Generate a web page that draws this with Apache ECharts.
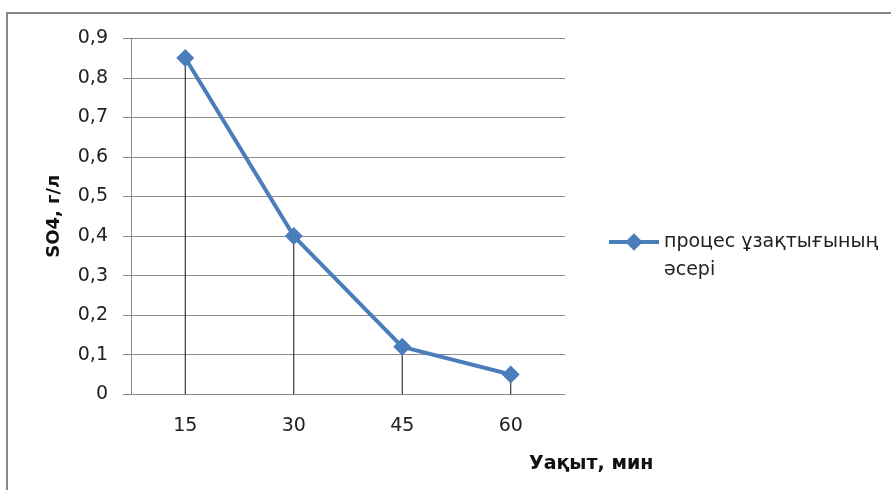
<!DOCTYPE html>
<html>
<head>
<meta charset="utf-8">
<script src="https://cdn.jsdelivr.net/npm/echarts@6/dist/echarts.min.js"></script>
<style>
  html, body { margin: 0; padding: 0; background: #fff; }
  #chart { width: 891px; height: 490px; }
</style>
</head>
<body>
<div id="chart"></div>
<script>
// Process duration (min) vs sulphate concentration (g/l)
const categories = ['15', '30', '45', '60'];
const so4Values = [0.85, 0.40, 0.12, 0.05];
const seriesName = 'процес ұзақтығының\nәсері';
const yTickLabels = ['0', '0,1', '0,2', '0,3', '0,4', '0,5', '0,6', '0,7', '0,8', '0,9'];
const yAxisTitle = 'SO4, г/л';
const xAxisTitle = 'Уақыт, мин';

const font = '"DejaVu Sans", "Open Sans", sans-serif';
const chart = echarts.init(document.getElementById('chart'), null, { renderer: 'canvas' });

chart.setOption({
  backgroundColor: '#fff',
  animation: false,
  textStyle: { fontFamily: font },
  graphic: [
    {
      type: 'polyline',
      shape: { points: [[7, 495], [7, 13], [895, 13]] },
      style: { stroke: '#868686', lineWidth: 2, fill: null },
      silent: true
    },
    {
      type: 'text',
      left: 529,
      top: 455,
      style: { text: xAxisTitle, fontFamily: font, fontSize: 19, fontWeight: 'bold', fill: '#111' }
    }
  ],
  grid: { left: 131, top: 38.3, right: 326, bottom: 95.7, containLabel: false },
  legend: {
    data: [seriesName],
    left: 602,
    top: 195,
    orient: 'vertical',
    itemWidth: 50,
    itemHeight: 22,
    itemGap: 5,
    lineStyle: { width: 4 },
    // a leading blank line keeps the first text line level with the legend icon
    formatter: (name) => '\n' + name,
    textStyle: { fontFamily: font, fontSize: 19, color: '#222', lineHeight: 28 }
  },
  xAxis: {
    type: 'category',
    data: categories,
    boundaryGap: true,
    axisLine: { show: true, lineStyle: { color: '#888', width: 1 } },
    axisTick: { show: false },
    axisLabel: { fontFamily: font, fontSize: 19, color: '#222', margin: 22 },
    splitLine: { show: false }
  },
  yAxis: {
    type: 'value',
    min: 0,
    max: 0.9,
    interval: 0.1,
    name: yAxisTitle,
    nameLocation: 'middle',
    nameGap: 68,
    nameTextStyle: { fontFamily: font, fontSize: 18, fontWeight: 'bold', color: '#111' },
    axisLine: { show: true, lineStyle: { color: '#888', width: 1 } },
    axisTick: { show: true, inside: false, length: 8, lineStyle: { color: '#888' } },
    axisLabel: {
      fontFamily: font, fontSize: 19, color: '#222', margin: 23,
      formatter: (v) => yTickLabels[Math.round(v * 10)]
    },
    splitLine: { show: true, lineStyle: { color: '#8c8c8c', width: 1 } }
  },
  series: [
    {
      // drop lines from each point down to the category axis
      name: 'drop',
      type: 'bar',
      data: so4Values,
      barWidth: 1,
      itemStyle: { color: '#111' },
      silent: true,
      z: 1
    },
    {
      name: seriesName,
      type: 'line',
      data: so4Values,
      symbol: 'diamond',
      symbolSize: 18,
      lineStyle: { color: '#4a7ebb', width: 4 },
      itemStyle: { color: '#4a7ebb' },
      z: 3
    }
  ]
});
</script>
</body>
</html>
